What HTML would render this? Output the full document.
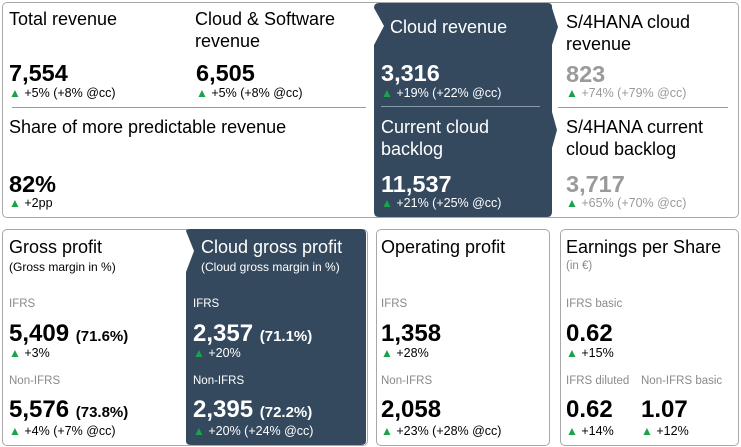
<!DOCTYPE html>
<html><head><meta charset="utf-8"><style>
body{margin:0;width:741px;height:447px;background:#fff;position:relative;overflow:hidden;font-family:"Liberation Sans",sans-serif;color:#000}
.card{position:absolute;border:1.5px solid #a8a8a8;border-radius:5px;box-sizing:border-box}
.t{position:absolute;white-space:nowrap;line-height:1}
.ti{font-size:18px;line-height:22px}
.big{font-size:23.5px;font-weight:bold}
.big2{font-size:24px;font-weight:bold}
.pc{font-size:15px;font-weight:bold}
.sm{font-size:12.5px}
.lab{font-size:11.5px;color:#8a8a8a}
.w{color:#fff}
.g{color:#9a9a9a}
.up{color:#1aa34a;font-size:12px}
.hr{position:absolute;height:1px;background:#9a9a9a}
</style></head><body>
<div class="card" style="left:2px;top:2px;width:737px;height:216px"></div>
<div class="card" style="left:2px;top:229px;width:366px;height:217px"></div>
<div class="card" style="left:376px;top:229px;width:174px;height:217px"></div>
<div class="card" style="left:560px;top:229px;width:179px;height:217px"></div>
<svg width="741" height="447" style="position:absolute;left:0;top:0">
<path d="M379,3 L548,3 Q552,3 552,7 L552,8 L558,27 L552,45 L552,112 L557,130 L552,148 L552,212 Q552,217 547,217 L379,217 Q374,217 374,212 L374,45 L384,26 L374,8 Q374,3 379,3Z" fill="#34495e"/>
<path d="M191,229 L361,229 Q366,229 366,234 L366,441 Q366,445 361,445 L191,445 Q186,445 186,441 L186,272 L194,251 L186,231 Q186,229 191,229Z" fill="#34495e"/>
</svg>
<div class="hr" style="left:12px;top:107px;width:354px"></div>
<div class="hr" style="left:381px;top:106px;width:159px;background:#8a9aaa"></div>
<div class="hr" style="left:558px;top:107px;width:170px"></div>

<div class="t ti" style="left:9px;top:8px">Total revenue</div>
<div class="t big" style="left:9px;top:62px">7,554</div>
<div class="t sm" style="left:9px;top:87px"><span class="up">▲</span> +5% (+8% @cc)</div>

<div class="t ti" style="left:195px;top:8px">Cloud &amp; Software<br>revenue</div>
<div class="t big" style="left:196px;top:62px">6,505</div>
<div class="t sm" style="left:196px;top:87px"><span class="up">▲</span> +5% (+8% @cc)</div>

<div class="t ti" style="left:9px;top:116px">Share of more predictable revenue</div>
<div class="t big" style="left:9px;top:173px">82%</div>
<div class="t sm" style="left:9px;top:197px"><span class="up">▲</span> +2pp</div>

<div class="t ti w" style="left:390px;top:16px">Cloud revenue</div>
<div class="t big w" style="left:381px;top:62px">3,316</div>
<div class="t sm w" style="left:381px;top:87px"><span class="up">▲</span> +19% (+22% @cc)</div>

<div class="t ti w" style="left:381px;top:116px">Current cloud<br>backlog</div>
<div class="t big w" style="left:381px;top:173px">11,537</div>
<div class="t sm w" style="left:381px;top:197px"><span class="up">▲</span> +21% (+25% @cc)</div>

<div class="t ti" style="left:566px;top:11px">S/4HANA cloud<br>revenue</div>
<div class="t big g" style="left:566px;top:63px">823</div>
<div class="t sm g" style="left:566px;top:87px"><span class="up">▲</span> +74% (+79% @cc)</div>

<div class="t ti" style="left:566px;top:116px">S/4HANA current<br>cloud backlog</div>
<div class="t big g" style="left:566px;top:173px">3,717</div>
<div class="t sm g" style="left:566px;top:197px"><span class="up">▲</span> +65% (+70% @cc)</div>

<div class="t ti" style="left:9px;top:236px">Gross profit</div>
<div class="t sm" style="left:9px;top:261px;font-size:12px">(Gross margin in %)</div>
<div class="t lab" style="left:9px;top:299px">IFRS</div>
<div class="t big2" style="left:9px;top:322px">5,409 <span class="pc">(71.6%)</span></div>
<div class="t sm" style="left:9px;top:347px"><span class="up">▲</span> +3%</div>
<div class="t lab" style="left:9px;top:376px">Non-IFRS</div>
<div class="t big2" style="left:9px;top:398px">5,576 <span class="pc">(73.8%)</span></div>
<div class="t sm" style="left:9px;top:425px"><span class="up">▲</span> +4% (+7% @cc)</div>

<div class="t ti w" style="left:201px;top:236px">Cloud gross profit</div>
<div class="t sm w" style="left:201px;top:261px;font-size:12px">(Cloud gross margin in %)</div>
<div class="t sm w" style="left:193px;top:299px;font-size:11.5px">IFRS</div>
<div class="t big2 w" style="left:193px;top:322px">2,357 <span class="pc">(71.1%)</span></div>
<div class="t sm w" style="left:193px;top:347px"><span class="up">▲</span> +20%</div>
<div class="t sm w" style="left:193px;top:376px;font-size:11.5px">Non-IFRS</div>
<div class="t big2 w" style="left:193px;top:398px">2,395 <span class="pc">(72.2%)</span></div>
<div class="t sm w" style="left:193px;top:425px"><span class="up">▲</span> +20% (+24% @cc)</div>

<div class="t ti" style="left:381px;top:236px">Operating profit</div>
<div class="t lab" style="left:381px;top:299px">IFRS</div>
<div class="t big2" style="left:381px;top:322px">1,358</div>
<div class="t sm" style="left:381px;top:347px"><span class="up">▲</span> +28%</div>
<div class="t lab" style="left:381px;top:376px">Non-IFRS</div>
<div class="t big2" style="left:381px;top:398px">2,058</div>
<div class="t sm" style="left:381px;top:425px"><span class="up">▲</span> +23% (+28% @cc)</div>

<div class="t ti" style="left:566px;top:236px">Earnings per Share</div>
<div class="t lab" style="left:566px;top:261px">(in €)</div>
<div class="t lab" style="left:566px;top:299px">IFRS basic</div>
<div class="t big2" style="left:566px;top:322px">0.62</div>
<div class="t sm" style="left:566px;top:347px"><span class="up">▲</span> +15%</div>
<div class="t lab" style="left:566px;top:376px">IFRS diluted</div>
<div class="t big2" style="left:566px;top:398px">0.62</div>
<div class="t sm" style="left:566px;top:425px"><span class="up">▲</span> +14%</div>
<div class="t lab" style="left:641px;top:376px">Non-IFRS basic</div>
<div class="t big2" style="left:641px;top:398px">1.07</div>
<div class="t sm" style="left:641px;top:425px"><span class="up">▲</span> +12%</div>
</body></html>
